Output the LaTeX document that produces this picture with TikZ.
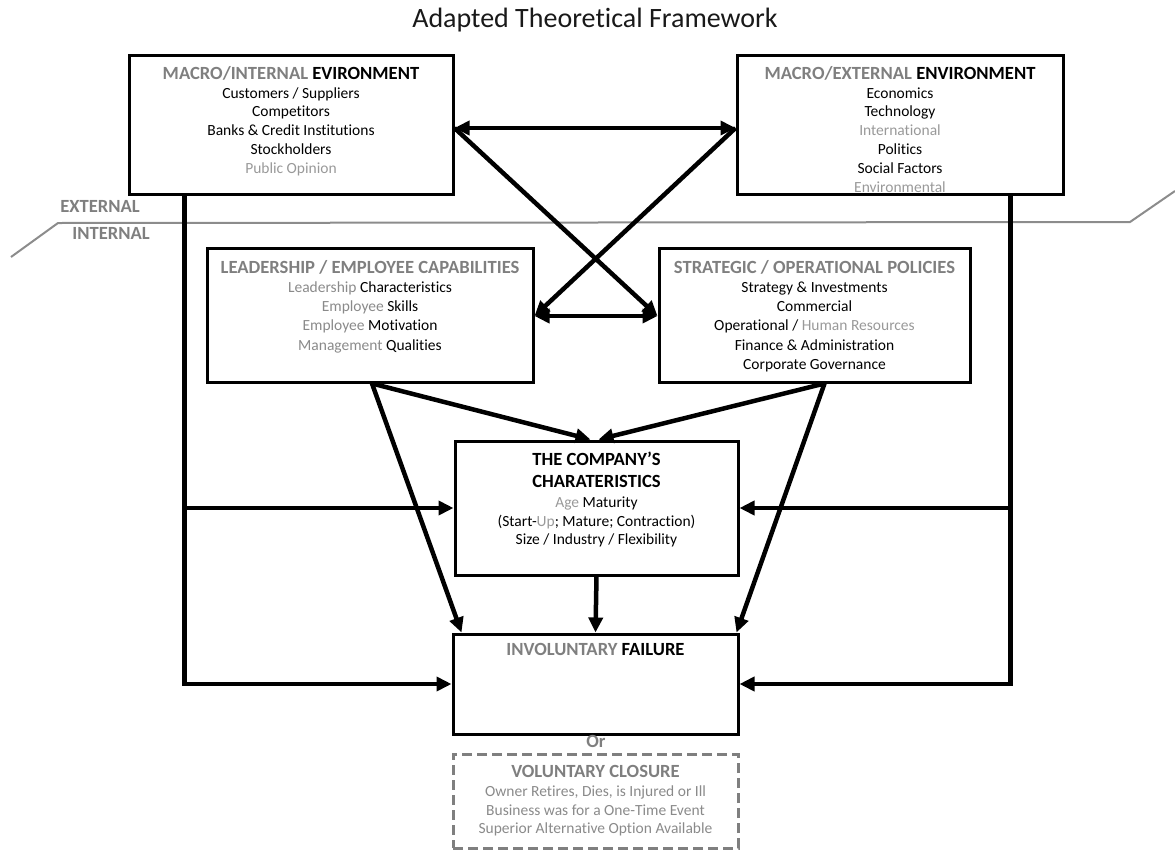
\documentclass[tikz,border=0pt]{standalone}
\usepackage{fontspec}
\setmainfont{Carlito}[Ligatures=NoCommon]
\usetikzlibrary{arrows.meta}
\definecolor{tg}{HTML}{7F7F7F}
\definecolor{lg}{HTML}{999999}
\definecolor{mg}{HTML}{8A8A8A}
\definecolor{lineg}{HTML}{8C8C8C}
\newcommand{\hd}{\fontsize{18.6}{22}\selectfont\bfseries}
\begin{document}
\begin{tikzpicture}[x=1pt,y=-1pt,
  box/.style={draw, line width=3pt, rectangle, inner sep=0pt},
  dashbox/.style={draw=tg, line width=3pt, dash pattern=on 10pt off 5pt, rectangle, inner sep=0pt},
  body/.style={font=\fontsize{15.5}{18.8}\selectfont, align=center, inner sep=0pt, anchor=north},
  single/.style={font=\hd, inner sep=0pt, anchor=mid},
  arr/.style={line width=4.5pt, -{Triangle[length=15pt,width=14pt]}},
  dbl/.style={line width=4.5pt, {Triangle[length=15pt,width=14pt]}-{Triangle[length=15pt,width=14pt]}},
  divider/.style={draw=lineg, line width=2pt}]
\useasboundingbox (0,0) rectangle (1175,854);

% title
\node[single, font=\fontsize{28}{32}\selectfont, text=black!90] (title) at (595,25) {Adapted Theoretical Framework};

% external / internal divider
\coordinate (d1) at (11,257);
\coordinate (d2) at (58,223);
\coordinate (d3) at (1130,222);
\coordinate (d4) at (1175,191);
\draw[divider] (d1) -- (d2) -- (d3) -- (d4);
\node[single, text=tg] (ext) at (100,210) {EXTERNAL};
\node[single, text=tg] (int) at (111,237) {INTERNAL};

% boxes
\node[box, minimum width=324pt, minimum height=139pt] (TL) at (291,124.5) {};
\node[box, minimum width=326pt, minimum height=139pt] (TR) at (900,124.5) {};
\node[box, minimum width=326pt, minimum height=134pt] (LE) at (370,315) {};
\node[box, minimum width=311pt, minimum height=134pt] (ST) at (814.5,315) {};
\node[box, minimum width=283pt, minimum height=134pt] (CO) at (596.5,508) {};
\node[box, minimum width=285pt, minimum height=100pt] (FA) at (595.5,684) {};
\node[dashbox, minimum width=285pt, minimum height=94pt] (VO) at (595.5,801) {};

% texts
\node[body] (TLt) at (291,66) {{\hd\color{tg}MACRO/INTERNAL \color{black}EVIRONMENT}\\[0pt]
  Customers / Suppliers\\ Competitors\\ Banks \& Credit Institutions\\ Stockholders\\ {\color{lg}Public Opinion}};
\node[body] (TRt) at (900,66) {{\hd\color{tg}MACRO/EXTERNAL \color{black}ENVIRONMENT}\\[0pt]
  Economics\\ Technology\\ {\color{lg}International}\\ Politics\\ Social Factors\\ {\color{lg}Environmental}};
\node[body, font=\fontsize{15.5}{19.2}\selectfont] (LEt) at (370,260) {{\hd\color{tg}LEADERSHIP / EMPLOYEE CAPABILITIES}\\[0pt]
  {\color{mg}Leadership} Characteristics\\ {\color{mg}Employee} Skills\\ {\color{mg}Employee} Motivation\\ {\color{mg}Management} Qualities};
\node[body, font=\fontsize{15.5}{19.2}\selectfont] (STt) at (814.5,260) {{\hd\color{tg}STRATEGIC / OPERATIONAL POLICIES}\\[0pt]
  Strategy \& Investments\\ Commercial\\ Operational / {\color{lg}Human Resources}\\ Finance \& Administration\\ Corporate Governance};
\node[body] (COt) at (596.5,452) {{\hd THE COMPANY’S}\\[3pt]
  {\hd CHARATERISTICS}\\[1pt]
  {\color{lg}Age} Maturity\\ (Start-{\color{lg}Up}; Mature; Contraction)\\ Size / Industry / Flexibility};
\node[single] (FAt) at (595.5,653) {{\color{tg}INVOLUNTARY} FAILURE};
\node[single, text=tg] (or) at (596,745) {Or};
\node[body] (VOt) at (595.5,765) {{\hd\color{tg}VOLUNTARY CLOSURE}\\[0pt]
  {\color{mg}Owner Retires, Dies, is Injured or Ill}\\ {\color{mg}Business was for a One-Time Event}\\ {\color{mg}Superior Alternative Option Available}};

% connectors
\draw[dbl] ([yshift=-3.5pt]TL.east) -- ([yshift=-3.5pt]TR.west);
\draw[arr] ([yshift=-3.5pt]TL.east) -- ([yshift=-1pt]ST.west);
\draw[arr] ([yshift=-3.5pt]TR.west) -- ([yshift=-1pt]LE.east);
\draw[dbl] ([yshift=-1pt]LE.east) -- ([yshift=-1pt]ST.west);
\draw[arr] ([xshift=2pt]LE.south) -- ([xshift=-6pt]CO.north);
\draw[arr] ([xshift=10pt]ST.south) -- ([xshift=2pt]CO.north);
\draw[arr] ([xshift=2pt]LE.south) -- ([xshift=10pt]FA.north west);
\draw[arr] ([xshift=10pt]ST.south) -- ([xshift=-3pt]FA.north east);
\draw[arr] (CO.south) -- (FA.north);

\coordinate (L) at ([xshift=57pt]TL.south west);
\coordinate (R) at ([xshift=-54pt]TR.south east);
\draw[arr] (L) |- (FA.west);
\draw[arr] (L |- CO.west) -- (CO.west);
\draw[arr] (R) |- (FA.east);
\draw[arr] (R |- CO.east) -- (CO.east);
\end{tikzpicture}
\end{document}
